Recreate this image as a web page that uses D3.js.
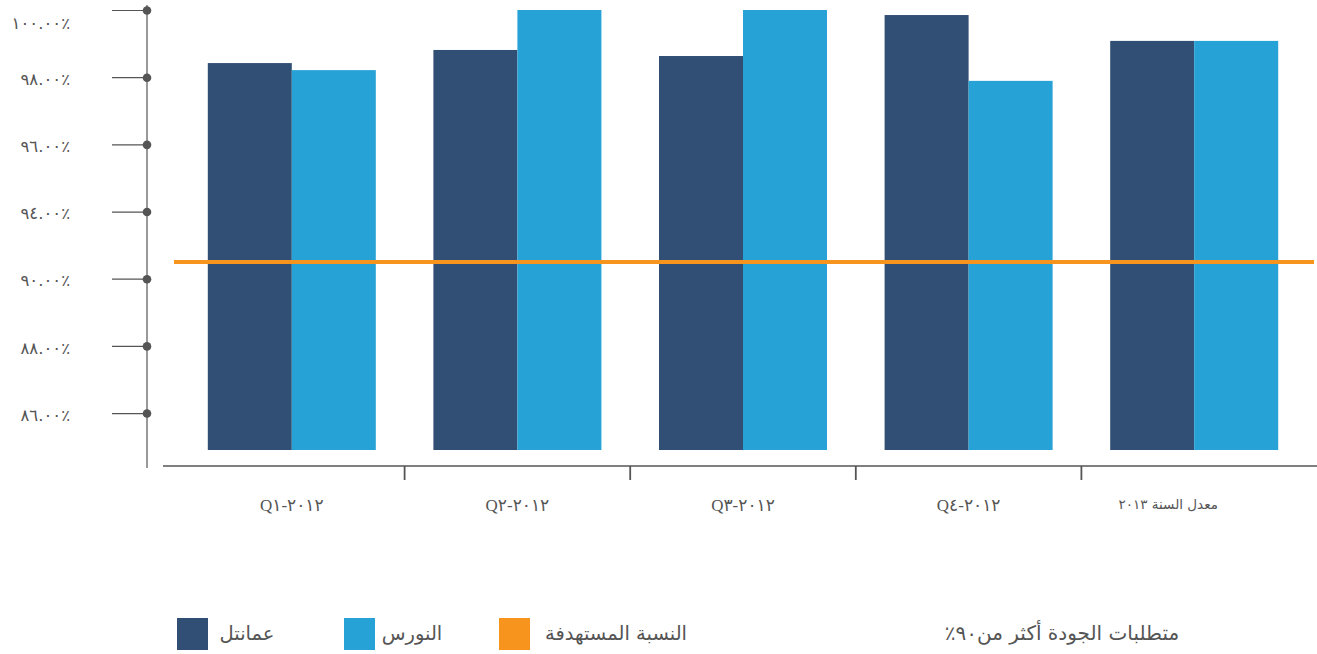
<!DOCTYPE html>
<html lang="ar">
<head>
<meta charset="utf-8">
<script src="https://cdn.jsdelivr.net/npm/d3@7"></script>
<style>
  html, body { margin: 0; padding: 0; background: #ffffff; }
  svg { display: block; }
</style>
</head>
<body>
<svg id="chart" width="1317" height="654"></svg>
<script>
// Quarterly quality scores, 2013
const categories = ["Q١\u200E-\u200E٢٠١٢", "Q٢\u200E-\u200E٢٠١٢", "Q٣\u200E-\u200E٢٠١٢", "Q٤\u200E-\u200E٢٠١٢", "معدل السنة ٢٠١٣"];
const seriesNames = ["عمانتل", "النورس"];
const omantel = [98.42, 98.81, 98.63, 99.85, 99.08];
const nawras  = [98.21, 100.00, 100.00, 97.89, 99.08];
const target = 92.5;
const targetName = "النسبة المستهدفة";
const note = "متطلبات الجودة أكثر من٩٠٪";

const tickValues = [100, 98, 96, 94, 92, 90, 88];
const tickLabels = ["١٠٠.٠٠٪", "٩٨.٠٠٪", "٩٦.٠٠٪", "٩٤.٠٠٪", "٩٠.٠٠٪", "٨٨.٠٠٪", "٨٦.٠٠٪"];

const colors = { dark: "#314f75", light: "#26a2d6", target: "#f7941d", axis: "#555555", text: "#555555" };
const arabicFont = "'DejaVu Sans', sans-serif";

const svg = d3.select("#chart");

// Scales
const y = d3.scaleLinear().domain([86.9, 100]).range([450, 10]);
const x = d3.scaleBand().domain(categories).range([179, 1307]).paddingInner(0.2553).paddingOuter(0.2553 / 2);
const xs = d3.scaleBand().domain(seriesNames).range([0, x.bandwidth()]);
const color = d3.scaleOrdinal().domain(seriesNames).range([colors.dark, colors.light]);

const rows = categories.map((c, i) => ({ cat: c, values: [
  { name: seriesNames[0], value: omantel[i] },
  { name: seriesNames[1], value: nawras[i] }
]}));

// Bars
const groups = svg.append("g").selectAll("g").data(rows).join("g")
  .attr("transform", d => `translate(${x(d.cat)},0)`);
groups.selectAll("rect").data(d => d.values).join("rect")
  .attr("x", d => xs(d.name))
  .attr("width", xs.bandwidth())
  .attr("y", d => y(d.value))
  .attr("height", d => y.range()[0] - y(d.value))
  .attr("fill", d => color(d.name));

// Y axis with dotted ticks
const axisX = 147;
const yAxis = svg.append("g").attr("transform", `translate(${axisX},0)`)
  .call(d3.axisLeft(y).tickValues(tickValues).tickSize(35).tickPadding(42)
    .tickFormat((d, i) => tickLabels[i]));
yAxis.select(".domain").remove();
yAxis.selectAll(".tick line").attr("stroke", colors.axis).attr("stroke-width", 1.2);
yAxis.selectAll(".tick text")
  .attr("y", d => Math.max(2, 23 - y(d)))
  .attr("fill", colors.text)
  .style("font-family", arabicFont)
  .style("font-size", "16.5px");
yAxis.append("line").attr("x1", 0).attr("x2", 0).attr("y1", 5).attr("y2", 468)
  .attr("stroke", colors.axis).attr("stroke-width", 1.2);
yAxis.selectAll(".tick").append("circle").attr("r", 4.3).attr("fill", colors.axis);

// X axis
const baseY = 466;
const xAxis = svg.append("g").attr("transform", `translate(0,${baseY})`)
  .call(d3.axisBottom(x).tickSize(0).tickPadding(33));
xAxis.select(".domain").remove();
xAxis.append("line").attr("x1", 163).attr("x2", 1317).attr("y1", 0).attr("y2", 0)
  .attr("stroke", colors.axis).attr("stroke-width", 1.5);
const gap = (x.step() - x.bandwidth()) / 2;
xAxis.selectAll(".sep").data(categories.slice(1)).join("line")
  .attr("class", "sep")
  .attr("x1", d => x(d) - gap).attr("x2", d => x(d) - gap)
  .attr("y1", 0).attr("y2", 14)
  .attr("stroke", colors.axis).attr("stroke-width", 1.8);
xAxis.selectAll(".tick text")
  .attr("fill", colors.text)
  .style("font-family", "'Liberation Serif', 'DejaVu Sans', serif")
  .style("font-size", "17px");
xAxis.selectAll(".tick").filter((d, i) => i === categories.length - 1).select("text")
  .attr("direction", "rtl")
  .attr("dx", -26)
  .style("font-family", arabicFont)
  .style("font-size", "13.5px");

// Target line
svg.append("line")
  .attr("x1", 174).attr("x2", 1314)
  .attr("y1", y(target)).attr("y2", y(target))
  .attr("stroke", colors.target).attr("stroke-width", 4);

// Legend
const legendItems = [
  { label: seriesNames[0], color: colors.dark, sx: 177, tx: 247 },
  { label: seriesNames[1], color: colors.light, sx: 344, tx: 412 },
  { label: targetName, color: colors.target, sx: 499, tx: 616 }
];
const legend = svg.append("g");
legend.selectAll("rect").data(legendItems).join("rect")
  .attr("x", d => d.sx).attr("y", 618).attr("width", 31).attr("height", 32)
  .attr("fill", d => d.color);
legend.selectAll("text").data(legendItems).join("text")
  .attr("x", d => d.tx).attr("y", 640)
  .attr("text-anchor", "middle").attr("direction", "rtl")
  .attr("fill", colors.text)
  .style("font-family", arabicFont).style("font-size", "19.5px")
  .text(d => d.label);
svg.append("text")
  .attr("x", 1062).attr("y", 640)
  .attr("text-anchor", "middle").attr("direction", "rtl")
  .attr("fill", colors.text)
  .style("font-family", arabicFont).style("font-size", "20px")
  .text(note);
</script>
</body>
</html>
